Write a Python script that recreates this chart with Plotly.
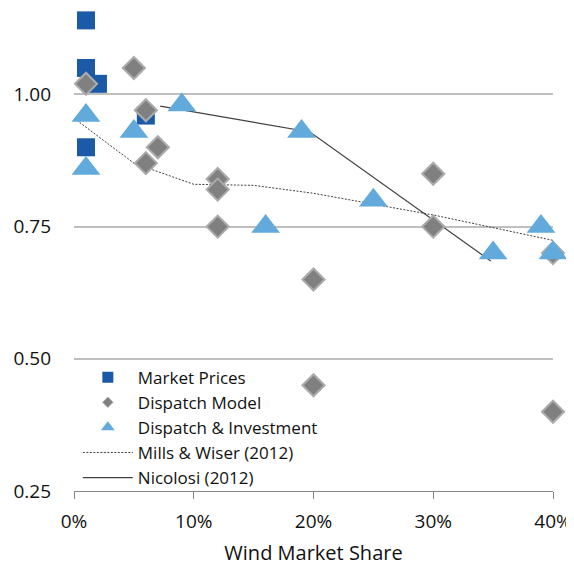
import plotly.graph_objects as go

# ---- data ----
mp_x = [1, 1, 2, 1, 6]
mp_y = [1.14, 1.05, 1.02, 0.90, 0.96]

dm_x = [1, 5, 6, 7, 6, 12, 12, 12, 20, 20, 30, 30, 40, 40]
dm_y = [1.02, 1.05, 0.97, 0.90, 0.87, 0.84, 0.82, 0.75, 0.65, 0.45, 0.85, 0.75, 0.70, 0.40]

di_x = [1, 1, 5, 9, 16, 19, 25, 35, 39, 40]
di_y = [0.96, 0.86, 0.93, 0.98, 0.75, 0.93, 0.80, 0.70, 0.75, 0.70]

mw_x = [0, 1.2, 5, 10, 15, 20, 30, 40]
mw_y = [0.955, 0.935, 0.87, 0.83, 0.828, 0.813, 0.772, 0.724]

nic_x = [7.2, 19.7, 34.8]
nic_y = [0.978, 0.929, 0.685]

x_ticks = [0, 10, 20, 30, 40]
x_tick_labels = ["0%", "10%", "20%", "30%", "40%"]
y_ticks = [0.25, 0.50, 0.75, 1.00]
y_tick_labels = ["0.25", "0.50", "0.75", "1.00"]

FONT = "Open Sans"
C_SQ = "#1B5AA6"
C_DM = "#808080"
C_DM_EDGE = "#ABABAB"
C_TRI = "#62AADC"
C_LINE = "#404040"
DOT = "2px,1.5px"

fig = go.Figure()

# plotted series (lines below markers)
fig.add_trace(go.Scatter(
    x=mw_x, y=mw_y, mode="lines", name="Mills & Wiser (2012)",
    line=dict(color=C_LINE, width=1, dash=DOT), legendrank=4,
    cliponaxis=False))
fig.add_trace(go.Scatter(
    x=nic_x, y=nic_y, mode="lines", name="Nicolosi (2012)",
    line=dict(color=C_LINE, width=1.2), legendrank=5, cliponaxis=False))
fig.add_trace(go.Scatter(
    x=mp_x, y=mp_y, mode="markers", name="Market Prices", legendgroup="mp",
    marker=dict(symbol="square", size=18, color=C_SQ, line=dict(width=0)),
    showlegend=False, cliponaxis=False))
fig.add_trace(go.Scatter(
    x=dm_x, y=dm_y, mode="markers", name="Dispatch Model", legendgroup="dm",
    marker=dict(symbol="diamond", size=17, color=C_DM,
                line=dict(width=2, color=C_DM_EDGE)),
    showlegend=False, cliponaxis=False))
fig.add_trace(go.Scatter(
    x=di_x, y=di_y, mode="markers", name="Dispatch & Investment", legendgroup="di",
    marker=dict(symbol="triangle-up", size=25, color=C_TRI, line=dict(width=0)),
    showlegend=False, cliponaxis=False))

# legend entries with the smaller legend symbols
fig.add_trace(go.Scatter(
    x=[None], y=[None], mode="markers", name="Market Prices", legendgroup="mp",
    marker=dict(symbol="square", size=11, color=C_SQ, line=dict(width=0)),
    legendrank=1))
fig.add_trace(go.Scatter(
    x=[None], y=[None], mode="markers", name="Dispatch Model", legendgroup="dm",
    marker=dict(symbol="diamond", size=8, color=C_DM, line=dict(width=1, color=C_DM_EDGE)),
    legendrank=2))
fig.add_trace(go.Scatter(
    x=[None], y=[None], mode="markers", name="Dispatch & Investment", legendgroup="di",
    marker=dict(symbol="triangle-up", size=12, color=C_TRI, line=dict(width=0)),
    legendrank=3))

fig.update_layout(
    width=566, height=569,
    margin=dict(l=65.5, r=21, t=0, b=86, pad=0),
    paper_bgcolor="white", plot_bgcolor="white",
    font=dict(family=FONT, size=19, color="#111111"),
    showlegend=True,
    legend=dict(x=0.008, y=0.272, xanchor="left", yanchor="top",
                bgcolor="rgba(0,0,0,0)", font=dict(family=FONT, size=17, color="#111111"),
                itemsizing="trace", tracegroupgap=0, itemwidth=50),
    xaxis=dict(range=[0, 40], tickvals=x_ticks, ticktext=x_tick_labels,
               showgrid=False, zeroline=False, showline=True,
               linecolor="#868686", linewidth=1.3, ticks="outside", ticklen=7,
               tickcolor="#868686", tickwidth=1.3, ticklabelstandoff=6,
               title=dict(text="Wind Market Share", font=dict(family=FONT, size=20),
                          standoff=13)),
    yaxis=dict(range=[0.25, 1.1634], tickvals=y_ticks, ticktext=y_tick_labels,
               showgrid=True, gridcolor="#BFBFBF", gridwidth=1.6,
               zeroline=False, showline=False, ticks="", ticklabelstandoff=22),
)

fig.write_html("out.html")
